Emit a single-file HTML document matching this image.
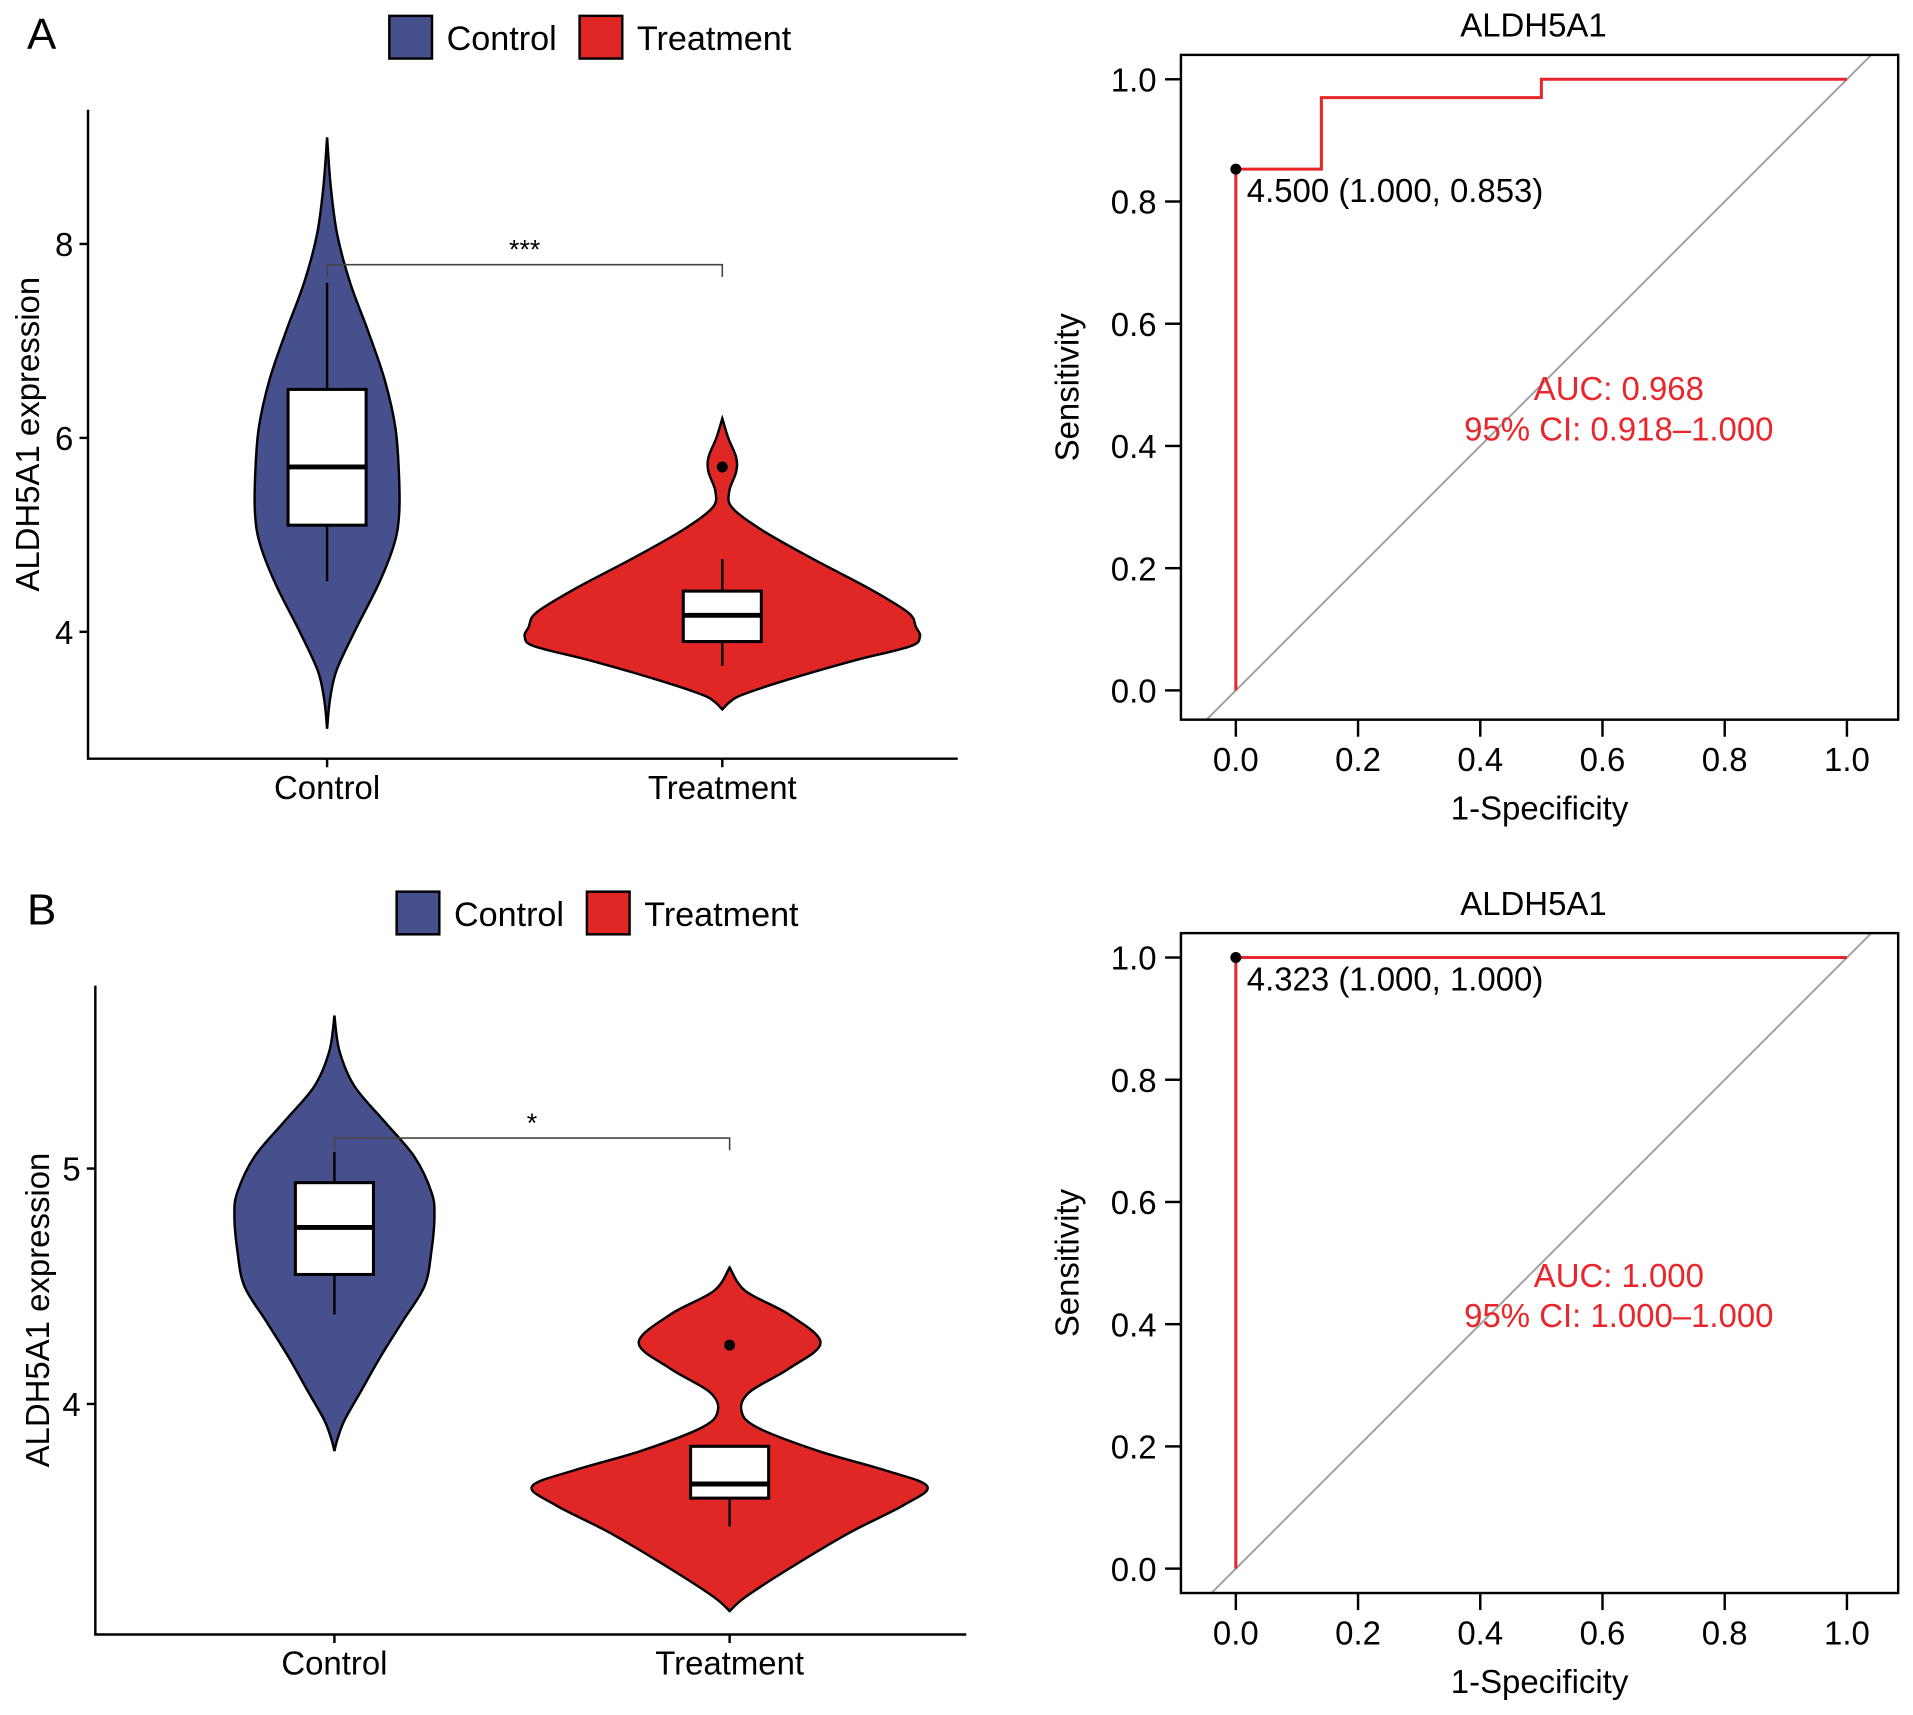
<!DOCTYPE html>
<html><head><meta charset="utf-8">
<style>
html,body{margin:0;padding:0;background:#fff;}
svg{display:block;font-family:"Liberation Sans",Arial,sans-serif;}
</style></head>
<body>
<svg id="fig" width="1913" height="1715" viewBox="0 0 1568 1406" xmlns="http://www.w3.org/2000/svg"></svg>
<script>
// ---------- data ----------
const groups = ["Control","Treatment"];
// Panel A violin density profiles: [value, relative half-width]
const violinA_control = [[9.1,0],[8.6,0.05],[8.1,0.14],[7.6,0.32],[7.1,0.57],[6.6,0.8],[6.1,0.95],[5.6,1.0],[5.2,1.0],[4.9,0.93],[4.5,0.72],[4.0,0.38],[3.6,0.13],[3.3,0.04],[3.0,0]];
const violinA_treat = [[6.2,0],[6.0,0.03],[5.8,0.07],[5.65,0.07],[5.45,0.035],[5.28,0.05],[5.05,0.2],[4.75,0.46],[4.45,0.74],[4.2,0.94],[4.05,0.98],[3.95,1.0],[3.85,0.95],[3.7,0.66],[3.5,0.32],[3.35,0.1],[3.28,0.04],[3.2,0]];
const boxA_control = [4.52,5.1,5.7,6.5,7.6]; // whisker lo, q1, median, q3, whisker hi
const boxA_treat = [3.65,3.9,4.17,4.42,4.75];
const outlierA = [5.7];
const ticksA = [4,6,8];
// Panel B
const violinB_control = [[5.65,0],[5.5,0.05],[5.35,0.2],[5.2,0.5],[5.05,0.8],[4.9,0.97],[4.8,1.0],[4.65,0.97],[4.5,0.9],[4.35,0.68],[4.2,0.46],[4.05,0.26],[3.93,0.1],[3.85,0.03],[3.8,0]];
const violinB_treat = [[4.58,0],[4.48,0.08],[4.38,0.3],[4.26,0.46],[4.15,0.3],[4.05,0.1],[3.97,0.06],[3.9,0.14],[3.8,0.45],[3.72,0.78],[3.65,1.0],[3.57,0.88],[3.45,0.6],[3.3,0.3],[3.18,0.08],[3.12,0]];
const boxB_control = [4.38,4.55,4.75,4.94,5.07];
const boxB_treat = [3.48,3.6,3.66,3.82,3.82];
const outlierB = [4.25];
const ticksB = [4,5];
// ROC curves: [1-specificity, sensitivity]
const rocA = [[0,0],[0,0.853],[0.14,0.853],[0.14,0.97],[0.5,0.97],[0.5,1],[1,1]];
const rocB = [[0,0],[0,1],[1,1]];
const cutA = [0,0.853], cutB = [0,1];
const rocTicks = [0,0.2,0.4,0.6,0.8,1.0];
const rocTickLabels = ["0.0","0.2","0.4","0.6","0.8","1.0"];

// ---------- helpers ----------
const NS="http://www.w3.org/2000/svg";
const svg=document.getElementById('fig');
function mk(tag,attrs,parent,text){const e=document.createElementNS(NS,tag);for(const k in attrs)e.setAttribute(k,attrs[k]);if(text!==undefined)e.textContent=text;(parent||svg).appendChild(e);return e;}
function smoothPath(pts){let d="M"+pts[0][0]+","+pts[0][1];for(let i=0;i<pts.length-1;i++){const p0=pts[i-1]||pts[i],p1=pts[i],p2=pts[i+1],p3=pts[i+2]||p2;const c1=[p1[0]+(p2[0]-p0[0])/6,p1[1]+(p2[1]-p0[1])/6];const c2=[p2[0]-(p3[0]-p1[0])/6,p2[1]-(p3[1]-p1[1])/6];d+=" C"+c1[0]+","+c1[1]+" "+c2[0]+","+c2[1]+" "+p2[0]+","+p2[1];}return d;}

function violinPanel(cfg){
  const g=mk('g',{});
  
  
  const y=v=>cfg.y0-(v-cfg.v0)*cfg.k;
  const ax=mk('path',{d:`M${cfg.xl},${cfg.yt} V${cfg.yb} H${cfg.xr}`,fill:'none',stroke:'#000','stroke-width':2},g);
  
  cfg.ticks.forEach(t=>{
    const tk=mk('line',{x1:cfg.xl-7,x2:cfg.xl,y1:y(t),y2:y(t),stroke:'#000','stroke-width':2},g);
    
    const tl=mk('text',{x:cfg.xl-12,y:y(t)+10,'text-anchor':'end','font-size':27},g,String(t));
    
  });
  const yl=mk('text',{transform:`translate(${cfg.ylabX},${(cfg.yt+cfg.yb)/2}) rotate(-90)`,'text-anchor':'middle','font-size':27},g,'ALDH5A1 expression');
  
  const cols=['#46508d','#e12726'];
  cfg.violins.forEach((prof,i)=>{
    const cx=cfg.xs[i],w=cfg.ws[i];
    const right=prof.map(p=>[cx+p[1]*w,y(p[0])]);
    const left=prof.slice().reverse().map(p=>[cx-p[1]*w,y(p[0])]);
    const vp=mk('path',{d:smoothPath(right)+" L"+smoothPath(left).slice(1)+" Z",fill:cols[i],stroke:'#000','stroke-width':2},g);
    
    const b=cfg.boxes[i];
    const wh=mk('line',{x1:cx,x2:cx,y1:y(b[0]),y2:y(b[4]),stroke:'#000','stroke-width':2},g);
    
    const bx=mk('rect',{x:cx-32,y:y(b[3]),width:64,height:y(b[1])-y(b[3]),fill:'#fff',stroke:'#000','stroke-width':2.5},g);
    
    const md=mk('line',{x1:cx-32,x2:cx+32,y1:y(b[2]),y2:y(b[2]),stroke:'#000','stroke-width':4},g);
    
    const tl=mk('line',{x1:cx,x2:cx,y1:cfg.yb,y2:cfg.yb+7,stroke:'#000','stroke-width':2},g);
    
    const lb=mk('text',{x:cx,y:cfg.yb+33,'text-anchor':'middle','font-size':27},g,groups[i]);
    
  });
  cfg.outliers.forEach(o=>{
    const c=mk('circle',{cx:cfg.xs[1],cy:y(o),r:4.5,fill:'#000'},g);
    
  });
  const br=mk('path',{d:`M${cfg.xs[0]},${cfg.brY+10} V${cfg.brY} H${cfg.xs[1]} V${cfg.brY+10}`,fill:'none',stroke:'#444','stroke-width':1.3},g);
  
  const st=mk('text',{x:(cfg.xs[0]+cfg.xs[1])/2,y:cfg.brY-5,'text-anchor':'middle','font-size':22},g,cfg.star);
  
  const lg=mk('g',{},g);
  groups.forEach((gname,i)=>{
    const lx=cfg.legX+i*156;
    const r=mk('rect',{x:lx,y:cfg.legY,width:35,height:35,fill:cols[i],stroke:'#000','stroke-width':2},lg);
    
    const t=mk('text',{x:lx+47,y:cfg.legY+28,'font-size':28},lg,gname);
    
  });
  const pl=mk('text',{x:22,y:cfg.legY+27,'font-size':36},g,cfg.letter);
  
}

function rocPanel(cfg){
  const g=mk('g',{});
  
  const X=v=>cfg.x0+v*(cfg.x1-cfg.x0);
  const Y=v=>cfg.y0-v*(cfg.y0-cfg.y1);
  const clipId='clip'+cfg.name;
  const cp=mk('clipPath',{id:clipId},g);mk('rect',{x:cfg.bl,y:cfg.bt,width:cfg.br-cfg.bl,height:cfg.bb-cfg.bt},cp);
  const diag=mk('line',{x1:X(-0.2),y1:Y(-0.2),x2:X(1.2),y2:Y(1.2),stroke:'#a0a0a0','stroke-width':1.6,'clip-path':`url(#${clipId})`},g);
  
  const bx=mk('rect',{x:cfg.bl,y:cfg.bt,width:cfg.br-cfg.bl,height:cfg.bb-cfg.bt,fill:'none',stroke:'#000','stroke-width':2},g);
  
  rocTicks.forEach((t,i)=>{
    const a=mk('line',{x1:X(t),x2:X(t),y1:cfg.bb,y2:cfg.bb+14,stroke:'#000','stroke-width':2},g);
    
    const al=mk('text',{x:X(t),y:cfg.bb+42,'text-anchor':'middle','font-size':27},g,rocTickLabels[i]);
    
    const b=mk('line',{x1:cfg.bl-13,x2:cfg.bl,y1:Y(t),y2:Y(t),stroke:'#000','stroke-width':2},g);
    
    const bl=mk('text',{x:cfg.bl-20,y:Y(t)+10,'text-anchor':'end','font-size':27},g,rocTickLabels[i]);
    
  });
  const xt=mk('text',{x:(cfg.bl+cfg.br)/2,y:cfg.bb+82,'text-anchor':'middle','font-size':27},g,'1-Specificity');
  
  const yt=mk('text',{transform:`translate(${cfg.bl-84},${(cfg.bt+cfg.bb)/2}) rotate(-90)`,'text-anchor':'middle','font-size':27},g,'Sensitivity');
  
  const ti=mk('text',{x:(cfg.bl+cfg.br)/2-5,y:cfg.bt-15,'text-anchor':'middle','font-size':27},g,'ALDH5A1');
  
  const d="M"+cfg.roc.map(p=>X(p[0])+","+Y(p[1])).join(" L");
  const cv=mk('path',{d:d,fill:'none',stroke:'#e8262b','stroke-width':2.5},g);
  
  const pt=mk('circle',{cx:X(cfg.cut[0]),cy:Y(cfg.cut[1]),r:4.5,fill:'#000'},g);
  
  const pl=mk('text',{x:X(cfg.cut[0])+9,y:Y(cfg.cut[1])+27,'font-size':27},g,cfg.cutLabel);
  
  const a1=mk('text',{x:cfg.aucX,y:cfg.aucY,'text-anchor':'middle','font-size':27,fill:'#e8262b'},g,cfg.auc);
  
  const a2=mk('text',{x:cfg.aucX,y:cfg.aucY+33,'text-anchor':'middle','font-size':27,fill:'#e8262b'},g,cfg.ci);
  
}

violinPanel({name:'violin-panel-a',letter:'A',xl:72,xr:785,yt:90,yb:622,y0:518,v0:4,k:79.5,xs:[268,592],ws:[59,162],
  violins:[violinA_control,violinA_treat],boxes:[boxA_control,boxA_treat],outliers:outlierA,ticks:ticksA,
  brY:217,star:'***',legX:319,legY:13,ylabX:32});
violinPanel({name:'violin-panel-b',letter:'B',xl:78,xr:792,yt:808,yb:1340,y0:1151,v0:4,k:193,xs:[274,598],ws:[82,162],
  violins:[violinB_control,violinB_treat],boxes:[boxB_control,boxB_treat],outliers:outlierB,ticks:ticksB,
  brY:933,star:'*',legX:325,legY:731,ylabX:40});
rocPanel({name:'roc-panel-a',bl:968,br:1556,bt:45,bb:590,x0:1013,x1:1514,y0:566,y1:65,roc:rocA,cut:cutA,
  cutLabel:'4.500 (1.000, 0.853)',auc:'AUC: 0.968',ci:'95% CI: 0.918\u20131.000',aucX:1327,aucY:328});
rocPanel({name:'roc-panel-b',bl:968,br:1556,bt:765,bb:1306,x0:1013,x1:1514,y0:1286,y1:785,roc:rocB,cut:cutB,
  cutLabel:'4.323 (1.000, 1.000)',auc:'AUC: 1.000',ci:'95% CI: 1.000\u20131.000',aucX:1327,aucY:1055});
</script>
</body></html>
